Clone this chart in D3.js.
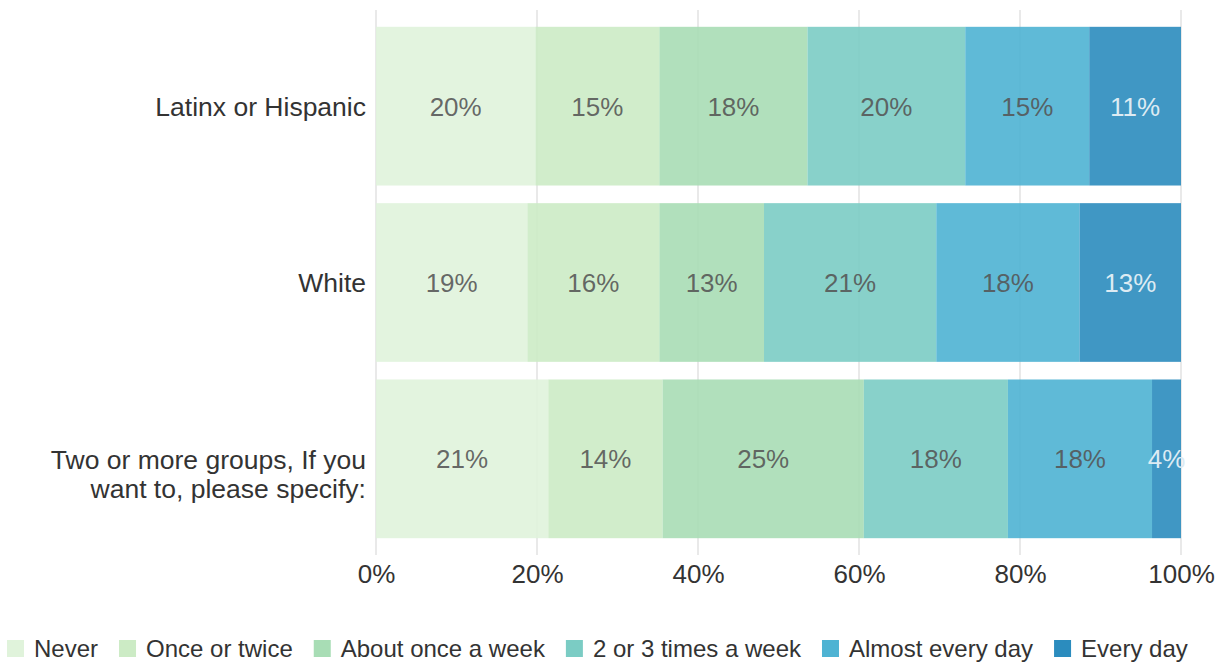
<!DOCTYPE html>
<html>
<head>
<meta charset="utf-8">
<script src="https://cdn.jsdelivr.net/npm/d3@7"></script>
<style>
  html, body { margin: 0; padding: 0; background: #fff; }
  svg { display: block; font-family: "Liberation Sans", Arial, sans-serif; }
</style>
</head>
<body>
<svg id="chart" width="1225" height="663"></svg>
<script>
const categories = ["Latinx or Hispanic", "White", "Two or more groups, If you want to, please specify:"];
const categoryLines = [["Latinx or Hispanic"], ["White"], ["Two or more groups, If you", "want to, please specify:"]];
const seriesNames = ["Never", "Once or twice", "About once a week", "2 or 3 times a week", "Almost every day", "Every day"];
const never        = [19.8, 18.8, 21.4];
const onceOrTwice  = [15.4, 16.4, 14.2];
const onceAWeek    = [18.4, 13.0, 25.0];
const twoOrThree   = [19.6, 21.4, 17.9];
const almostEvery  = [15.4, 17.8, 17.9];
const everyDay     = [11.4, 12.6, 3.6];
const seriesValues = [never, onceOrTwice, onceAWeek, twoOrThree, almostEvery, everyDay];
const colors = ["#e0f3db", "#ccebc5", "#a8ddb5", "#7bccc4", "#4eb3d3", "#2b8cbe"];
const tickValues = [0, 20, 40, 60, 80, 100];

const svg = d3.select("#chart");
const x = d3.scaleLinear().domain([0, 100]).range([376, 1181]);
const y = d3.scaleBand().domain(categories).range([18, 547]).paddingInner(0.1).paddingOuter(0.05);

// gridlines
svg.append("g").selectAll("line").data(tickValues).join("line")
  .attr("x1", d => x(d)).attr("x2", d => x(d))
  .attr("y1", 10).attr("y2", 555)
  .attr("stroke", "#e2e2e2").attr("stroke-width", 1.5);

// stacked data
const rows = categories.map((c, i) => {
  let acc = 0;
  return seriesValues.map((s, j) => {
    const v = s[i];
    const seg = { cat: c, j, v, x0: acc, x1: acc + v };
    acc += v;
    return seg;
  });
}).flat();

const bars = svg.append("g");
bars.selectAll("rect").data(rows).join("rect")
  .attr("x", d => x(d.x0))
  .attr("width", d => x(d.x1) - x(d.x0))
  .attr("y", d => y(d.cat))
  .attr("height", y.bandwidth())
  .attr("fill", d => colors[d.j])
  .attr("fill-opacity", 0.9);

bars.selectAll("text").data(rows).join("text")
  .attr("x", d => (x(d.x0) + x(d.x1)) / 2)
  .attr("y", d => y(d.cat) + y.bandwidth() / 2)
  .attr("dy", "0.36em")
  .attr("text-anchor", "middle")
  .attr("font-size", 26)
  .attr("fill", d => d.j === 5 ? "#ddebf3" : "#555")
  .attr("fill-opacity", d => d.j === 5 ? 1 : 0.88)
  .text(d => Math.round(d.v) + "%");

// category labels
const catG = svg.append("g");
categories.forEach((c, i) => {
  const lines = categoryLines[i];
  const cy = y(c) + y.bandwidth() / 2;
  const lh = 29;
  lines.forEach((ln, k) => {
    catG.append("text")
      .attr("x", 366)
      .attr("y", cy + (lines.length > 1 ? k * lh + 1 : 0))
      .attr("dy", "0.36em")
      .attr("text-anchor", "end")
      .attr("font-size", 26.5)
      .attr("fill", "#333")
      .text(ln);
  });
});

// x axis labels
const axis = d3.axisBottom(x).tickValues(tickValues).tickFormat(d => d + "%").tickSize(0).tickPadding(0);
const ag = svg.append("g").attr("transform", "translate(0,565)").call(axis);
ag.select(".domain").remove();
ag.selectAll("text").attr("font-size", 26).attr("fill", "#333")
  .attr("font-family", "'Liberation Sans', Arial, sans-serif");

// legend
const lg = svg.append("g");
let lx = 7;
seriesNames.forEach((n, i) => {
  lg.append("rect").attr("x", lx).attr("y", 640).attr("width", 17).attr("height", 17).attr("fill", colors[i]);
  const t = lg.append("text").attr("x", lx + 27).attr("y", 648.5).attr("dy", "0.36em")
    .attr("font-size", 24).attr("fill", "#333").text(n);
  const w = t.node().getComputedTextLength();
  lx = lx + 27 + w + 21;
});
</script>
</body>
</html>
